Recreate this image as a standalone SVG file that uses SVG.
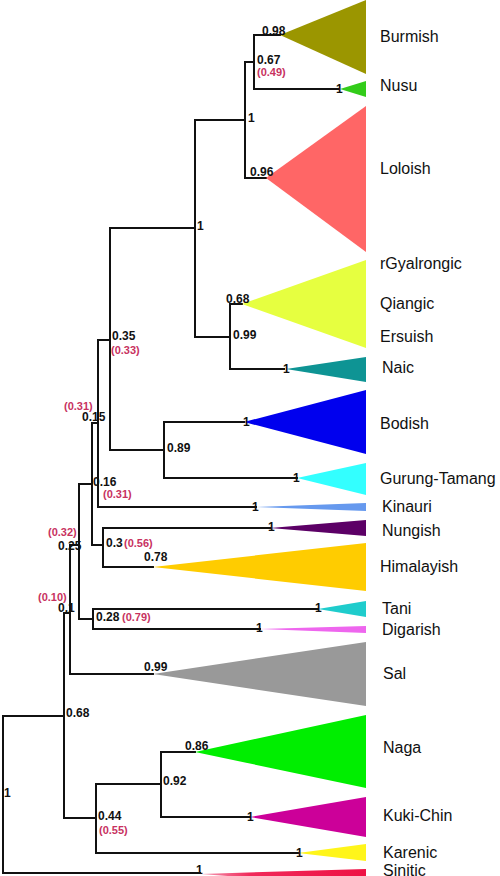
<svg xmlns="http://www.w3.org/2000/svg" width="500" height="876" viewBox="0 0 500 876">
<defs>
<style>
.br{fill:none;stroke:#111;stroke-width:2;stroke-linecap:square}
.lb{font-family:"Liberation Sans",Arial,sans-serif;font-size:16px;fill:#111}
.s{font-family:"Liberation Sans",Arial,sans-serif;font-size:12px;font-weight:bold;fill:#111}
.r{font-family:"Liberation Sans",Arial,sans-serif;font-size:11px;font-weight:bold;fill:#c8325f}
</style>
<linearGradient id="sin" x1="0" y1="0" x2="1" y2="0">
<stop offset="0" stop-color="#f5a0b8"/>
<stop offset="0.3" stop-color="#f02a5a"/>
<stop offset="1" stop-color="#ee1144"/>
</linearGradient>
</defs>
<rect width="500" height="876" fill="#fff"/>
<g id="connectors">
<path class="br" d="M3 716V873H200M3 716H64"/>
<path class="br" d="M64 613V818M64 613H70M64 818H96"/>
<path class="br" d="M70 545V674H153M70 545H79"/>
<path class="br" d="M79 484V619M79 484H92M79 619H93"/>
<path class="br" d="M93 609V629M93 609H318M93 629H260"/>
<path class="br" d="M92 423V545H103"/>
<path class="br" d="M103 528V567H153M103 528H270"/>
<path class="br" d="M92 423H98M98 340V507H256M98 340H110"/>
<path class="br" d="M110 228V450H164"/>
<path class="br" d="M164 422V478H297M164 422H244"/>
<path class="br" d="M110 228H195M195 120V337H230"/>
<path class="br" d="M230 304V369H284M230 304H242"/>
<path class="br" d="M195 120H245M245 62V178H266M245 62H254"/>
<path class="br" d="M254 35V89H338M254 35H280"/>
<path class="br" d="M96 784V853H298M96 784H161"/>
<path class="br" d="M161 752V817H250M161 752H195"/>
</g>
<g id="node-burmish"><polygon points="280,35 366,0 366,74" fill="#9b9600"/><text class="lb" x="380" y="42">Burmish</text></g>
<g id="node-nusu"><polygon points="340,89 366,81 366,97" fill="#33cc1a"/><text class="lb" x="380" y="91">Nusu</text></g>
<g id="node-loloish"><polygon points="266,178 366,106 366,252" fill="#ff6666"/><text class="lb" x="380" y="174">Loloish</text></g>
<g id="node-qiangic"><polygon points="242,304 366,260 366,348" fill="#e6ff40"/><text class="lb" x="380" y="269">rGyalrongic</text><text class="lb" x="380" y="309">Qiangic</text><text class="lb" x="380" y="342">Ersuish</text></g>
<g id="node-naic"><polygon points="286,369 366,357 366,382" fill="#0e9494"/><text class="lb" x="382" y="373">Naic</text></g>
<g id="node-bodish"><polygon points="244,422 366,390 366,454" fill="#0000ee"/><text class="lb" x="380" y="429">Bodish</text></g>
<g id="node-gurung"><polygon points="297,478 366,463 366,495" fill="#33ffff"/><text class="lb" x="380" y="484">Gurung-Tamang</text></g>
<g id="node-kinauri"><polygon points="256,507 366,503 366,511" fill="#6699ee"/><text class="lb" x="382" y="512">Kinauri</text></g>
<g id="node-nungish"><polygon points="270,528 366,520 366,536" fill="#5c0066"/><text class="lb" x="382" y="536">Nungish</text></g>
<g id="node-himalayish"><polygon points="153,567 366,543 366,591" fill="#ffcc00"/><text class="lb" x="380" y="572">Himalayish</text></g>
<g id="node-tani"><polygon points="318,609 366,601 366,617" fill="#1fcccc"/><text class="lb" x="382" y="614">Tani</text></g>
<g id="node-digarish"><polygon points="260,629 366,626 366,633" fill="#ee66ee"/><text class="lb" x="382" y="635">Digarish</text></g>
<g id="node-sal"><polygon points="153,674 366,642 366,706" fill="#999999"/><text class="lb" x="383" y="679">Sal</text></g>
<g id="node-naga"><polygon points="195,752 366,715 366,788" fill="#00ee00"/><text class="lb" x="383" y="753">Naga</text></g>
<g id="node-kukichin"><polygon points="250,817 366,797 366,837" fill="#cc0099"/><text class="lb" x="383" y="821">Kuki-Chin</text></g>
<g id="node-karenic"><polygon points="298,853 366,844 366,861" fill="#fff51a"/><text class="lb" x="383" y="858">Karenic</text></g>
<g id="node-sinitic"><polygon points="200,874 366,869 366,886" fill="url(#sin)"/><text class="lb" x="383" y="876">Sinitic</text></g>
<g id="support-labels">
<text class="s" x="262" y="35">0.98</text>
<text class="s" x="257" y="64">0.67</text>
<text class="r" x="257" y="76">(0.49)</text>
<text class="s" x="336" y="93">1</text>
<text class="s" x="248" y="122">1</text>
<text class="s" x="250" y="176">0.96</text>
<text class="s" x="197" y="230">1</text>
<text class="s" x="226" y="303">0.68</text>
<text class="s" x="233" y="339">0.99</text>
<text class="s" x="283" y="373">1</text>
<text class="s" x="112" y="340">0.35</text>
<text class="r" x="111" y="354">(0.33)</text>
<text class="r" x="64" y="410">(0.31)</text>
<text class="s" x="82" y="421">0.15</text>
<text class="s" x="243" y="426">1</text>
<text class="s" x="167" y="452">0.89</text>
<text class="s" x="293" y="482">1</text>
<text class="s" x="93" y="486">0.16</text>
<text class="r" x="103" y="498">(0.31)</text>
<text class="s" x="252" y="511">1</text>
<text class="s" x="268" y="531">1</text>
<text class="s" x="106" y="547">0.3</text>
<text class="r" x="124" y="547">(0.56)</text>
<text class="s" x="144" y="561">0.78</text>
<text class="r" x="48" y="536">(0.32)</text>
<text class="s" x="58" y="550">0.25</text>
<text class="r" x="38" y="601">(0.10)</text>
<text class="s" x="58" y="612">0.1</text>
<text class="s" x="315" y="612">1</text>
<text class="s" x="96" y="621">0.28</text>
<text class="r" x="122" y="621">(0.79)</text>
<text class="s" x="256" y="632">1</text>
<text class="s" x="144" y="671">0.99</text>
<text class="s" x="66" y="717">0.68</text>
<text class="s" x="4" y="797">1</text>
<text class="s" x="185" y="750">0.86</text>
<text class="s" x="163" y="785">0.92</text>
<text class="s" x="98" y="820">0.44</text>
<text class="r" x="99" y="834">(0.55)</text>
<text class="s" x="247" y="821">1</text>
<text class="s" x="296" y="857">1</text>
<text class="s" x="196" y="874">1</text>
</g>
</svg>
